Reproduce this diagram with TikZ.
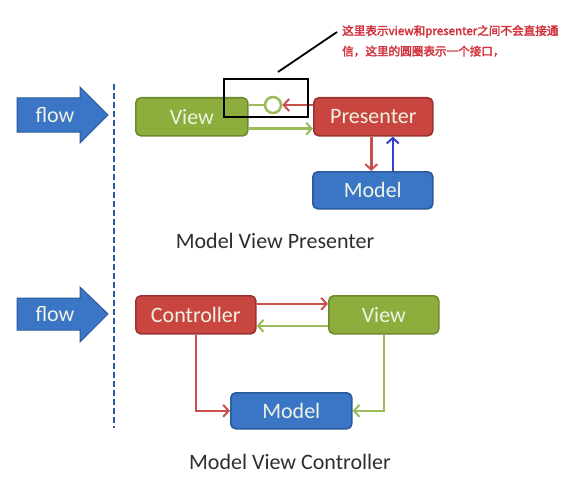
\documentclass[tikz,border=0pt]{standalone}
\usepackage{fontspec}
\setmainfont{Carlito}
\newfontfamily\cjk{Noto Sans CJK SC}[FakeBold=2.5]
\usetikzlibrary{arrows.meta,calc}
\definecolor{gfill}{HTML}{8DAE3C}
\definecolor{gdraw}{HTML}{6E8A2E}
\definecolor{rfill}{HTML}{C8463F}
\definecolor{rdraw}{HTML}{9A3230}
\definecolor{bfill}{HTML}{3B76C6}
\definecolor{bdraw}{HTML}{2A5A9C}
\definecolor{gline}{HTML}{9BBB59}
\definecolor{rline}{HTML}{C9504B}
\definecolor{bline}{HTML}{3340D0}
\definecolor{boxtext}{HTML}{EEF3E4}
\definecolor{notered}{HTML}{D2323C}
\definecolor{labgray}{HTML}{2E2E2E}
\tikzset{
  mbox/.style={rounded corners=5pt, line width=1.6pt, text=boxtext,
    font=\fontsize{22}{24}\selectfont, inner sep=0pt, anchor=north west},
  gbox/.style={mbox, draw=gdraw, fill=gfill},
  rbox/.style={mbox, draw=rdraw, fill=rfill},
  bbox/.style={mbox, draw=bdraw, fill=bfill},
  tip/.style={-{Straight Barb[length=5.5pt,width=12pt,line width=2pt]}},
  gconn/.style={draw=gline, line width=2.5pt},
  rconn/.style={draw=rline, line width=2.5pt},
  bconn/.style={draw=bline, line width=2.5pt},
  flowarrow/.style={fill=bfill, draw=bdraw, line width=1pt},
  flowtext/.style={text=boxtext, font=\fontsize{22}{24}\selectfont},
  caption/.style={text=labgray, font=\fontsize{22}{24}\selectfont},
}
\begin{document}
\begin{tikzpicture}[x=1pt,y=-1pt]
\useasboundingbox[fill=white] (0,0) rectangle (583,484);

% flow arrows
\draw[flowarrow] (17,98) -- (80,98) -- (80,87) -- (108,115) -- (80,143) -- (80,132) -- (17,132) -- cycle;
\node[flowtext] (flow1) at (55,115) {flow};
\draw[flowarrow] (17,298) -- (80,298) -- (80,287) -- (108,314) -- (80,342) -- (80,330) -- (17,330) -- cycle;
\node[flowtext] (flow2) at (55,314) {flow};

% dashed separator
\coordinate (dtop) at (114,84);
\coordinate (dbot) at (114,428);
\draw[bdraw, line width=2.5pt, dash pattern=on 6pt off 3pt] (dtop) -- (dbot);

% MVP
\node[gbox, minimum width=112pt, minimum height=38pt] (view1) at (135,97) {View};
\node[rbox, minimum width=119pt, minimum height=38pt] (pres) at (313,97) {Presenter};
\node[bbox, minimum width=120pt, minimum height=37pt] (model1) at (312,171) {Model};
\node[circle, draw=gline, fill=white, line width=2.5pt, minimum size=16pt, inner sep=0pt] (circ) at (273,105) {};

\draw[gconn] (view1.east |- circ) -- (circ.west);
\draw[rconn, tip] (pres.west |- circ) -- (circ.east);
\draw[gconn, tip] ([yshift=8pt]view1.south east) -- ([yshift=8pt]view1.south east -| pres.west);
\draw[rconn, tip] ([xshift=-2pt]pres.south) -- ([xshift=-2pt]pres.south |- model1.north);
\draw[bconn, tip] ([xshift=20pt]model1.north) -- ([xshift=20pt]model1.north |- pres.south);

% annotation
\node[draw=black, line width=1.8pt, minimum width=84pt, minimum height=38pt, inner sep=0pt, anchor=north west] (hl) at (223,78) {};
\node[anchor=north west, text=notered, inner sep=0pt, align=left,
  font=\cjk\fontsize{11.6}{20.5}\selectfont] (note) at (342,25)
  {这里表示view和presenter之间不会直接通\\信，这里的圆圈表示一个接口，};
\coordinate (lstart) at (278,72);
\coordinate (lend) at (337,32);
\draw[black, line width=1.8pt] (lstart) -- (lend);

\node[caption] (cap1) at (275,241) {Model View Presenter};

% MVC
\node[rbox, minimum width=120pt, minimum height=38pt] (ctrl) at (135,295) {Controller};
\node[gbox, minimum width=110pt, minimum height=38pt] (view2) at (328,295) {View};
\node[bbox, minimum width=121pt, minimum height=36pt] (model2) at (230,392) {Model};

\draw[rconn, tip] ([yshift=11pt]ctrl.east) -- ([yshift=11pt]ctrl.east -| view2.west);
\draw[gconn, tip] ([yshift=-11pt]view2.west) -- ([yshift=-11pt]view2.west -| ctrl.east);
\draw[rconn, tip] (ctrl.south) |- (model2.west);
\draw[gconn, tip] (view2.south) |- (model2.east);

\node[caption] (cap2) at (290,462) {Model View Controller};
\end{tikzpicture}
\end{document}
